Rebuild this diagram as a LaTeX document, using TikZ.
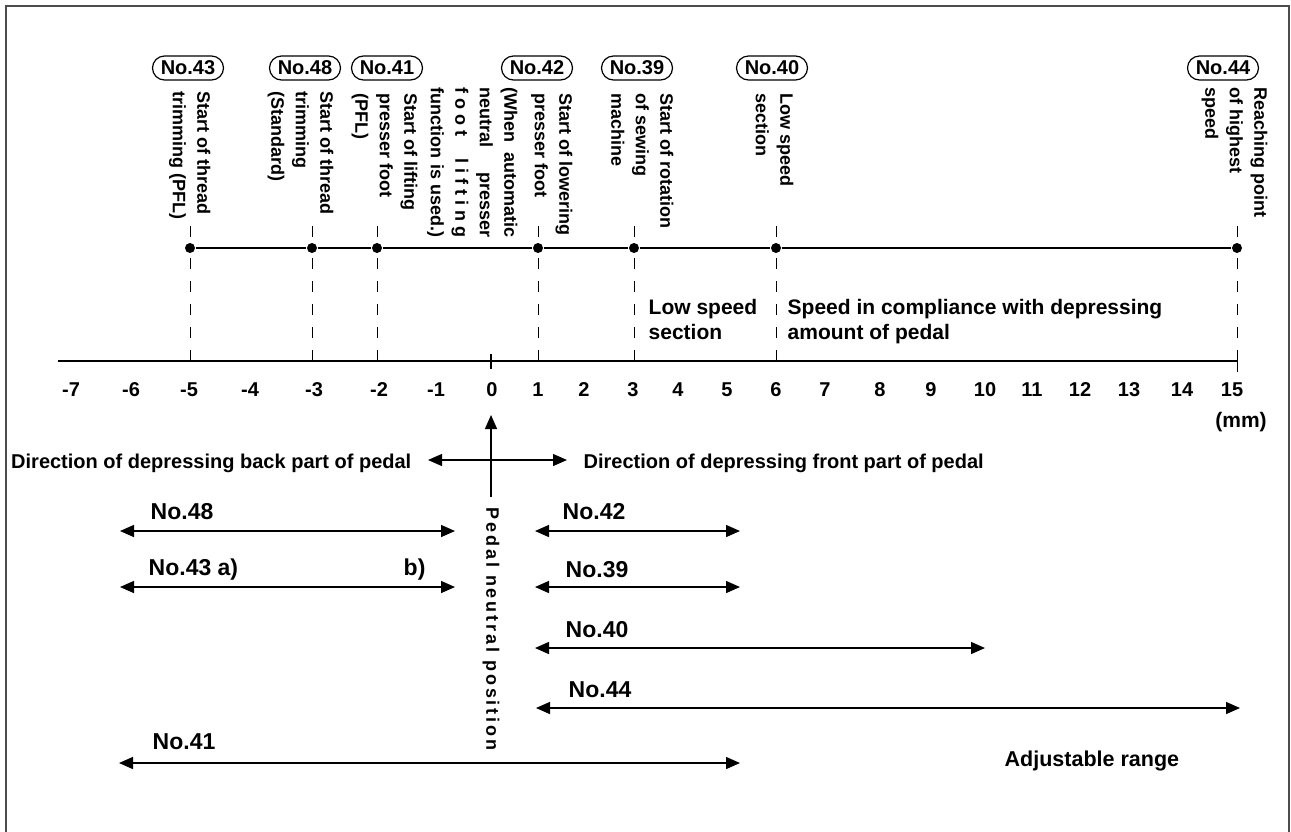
\documentclass[tikz,border=0pt]{standalone}
\usepackage{fontspec}
\setmainfont{Liberation Sans}
\newfontfamily\spacedfont{Liberation Sans}[LetterSpace=16]
\usetikzlibrary{arrows.meta}
\begin{document}
\begin{tikzpicture}[x=1pt,y=-1pt,line width=1.4pt,
  oval/.style={draw,rounded corners=12pt,minimum width=71pt,minimum height=24pt,inner sep=0pt,line width=1.2pt,font=\fontsize{20}{24}\selectfont\bfseries},
  dot/.style={circle,fill,inner sep=0pt,minimum size=10pt},
  vlab/.style={rotate=-90,anchor=north west,align=left,inner sep=0pt,font=\fontsize{18}{24.5}\selectfont\bfseries},
  num/.style={inner sep=0pt,font=\fontsize{20}{24}\selectfont\bfseries},
  hlab/.style={inner sep=0pt,align=left,font=\fontsize{21}{25}\selectfont\bfseries},
  rlab/.style={inner sep=0pt,anchor=west,font=\fontsize{23}{27}\selectfont\bfseries},
  dline/.style={line width=1pt,dash pattern=on 11pt off 12pt},
  rng/.style={line width=1.4pt,{Triangle[length=14pt,width=12pt]}-{Triangle[length=14pt,width=12pt]}}]
\useasboundingbox (0,0) rectangle (1291,831);
% frame
\draw[black!70,line width=1.5pt] (6,845) -- (6,6) -- (1289,6) -- (1289,845);
% ovals
\node[oval] (o43) at (188,68) {No.43};
\node[oval] (o48) at (305,68) {No.48};
\node[oval] (o41) at (387,68) {No.41};
\node[oval] (o42) at (537,68) {No.42};
\node[oval] (o39) at (637,68) {No.39};
\node[oval] (o40) at (772,68) {No.40};
\node[oval] (o44) at (1223,68) {No.44};
% vertical labels
\node[vlab] (t43) at (211,91) {Start of thread\\trimming (PFL)};
\node[vlab] (t48) at (334,91) {Start of thread\\trimming\\(Standard)};
\node[vlab] (t41) at (418,93) {Start of lifting\\presser foot\\(PFL)};
\node[vlab] (t42) at (573,93) {Start of lowering\\presser foot};
\node[vlab] (t42b) at (518,87) {\makebox[150pt][s]{(When automatic}\\\makebox[150pt][s]{neutral presser}\\\makebox[150pt][s]{\addfontfeature{LetterSpace=28}foot \ lifting}\\\makebox[150pt][s]{function is used.)}};
\node[vlab] (t39) at (674,93) {Start of rotation\\of sewing\\machine};
\node[vlab] (t40) at (794,93) {Low speed\\section};
\node[vlab] (t44) at (1268,87) {Reaching point\\of highest\\speed};
% dots
\node[dot] (d43) at (190,248) {};
\node[dot] (d48) at (312,248) {};
\node[dot] (d41) at (377,248) {};
\node[dot] (d42) at (538,248) {};
\node[dot] (d39) at (634,248) {};
\node[dot] (d40) at (776,248) {};
\node[dot] (d44) at (1237,248) {};
\draw (d43) -- (d48) -- (d41) -- (d42) -- (d39) -- (d40) -- (d44);
% dashed verticals
\foreach \k/\x in {43/190,48/312,41/377,42/538,39/634,40/776,44/1237}{
  \coordinate (f\k) at (\x,361);
  \coordinate (u\k) at (\x,226);
  \coordinate (v\k) at (\x,237);
  \draw[dline] (f\k) -- (d\k);
  \draw[line width=1pt] (u\k) -- (v\k);
}
% axis
\coordinate (axL) at (58,361);
\coordinate (axR) at (1237,361);
\draw (axL) -- (axR);
\coordinate (z0) at (491,354);
\coordinate (z1) at (491,369);
\draw (z0) -- (z1);
\coordinate (e44) at (1237,372);
\draw[line width=1pt] (f44) -- (e44);
% numbers
\foreach \v/\x in {-7/71,-6/131,-5/189,-4/250,-3/314,-2/379,-1/436,0/492,1/538,2/584,3/633,4/678,5/727,6/776,7/825,8/880,9/931,10/985,11/1032,12/1080,13/1129,14/1182,15/1232}
  \node[num] (n\v) at (\x,390) {\v};
\node[num,font=\fontsize{21}{24}\selectfont\bfseries] (mm) at (1241,422) {(mm)};
% section texts
\node[hlab,anchor=north west] (ls) at (648,299) {Low speed\\section};
\node[hlab,anchor=north west] (sc) at (787,299) {Speed in compliance with depressing\\amount of pedal};
% pedal direction
\coordinate (pv0) at (491,497);
\coordinate (pv1) at (491,415);
\draw[line width=1.2pt,-{Triangle[length=14pt,width=12pt]}] (pv0) -- (pv1);
\coordinate (ph0) at (428,460);
\coordinate (ph1) at (567,460);
\draw[rng,line width=1.2pt] (ph0) -- (ph1);
\node[hlab,anchor=east,font=\fontsize{20}{24}\selectfont\bfseries] (dback) at (412,463) {Direction of depressing back part of pedal};
\node[hlab,anchor=west,font=\fontsize{20}{24}\selectfont\bfseries] (dfront) at (583,463) {Direction of depressing front part of pedal};
\node[rotate=-90,anchor=north west,inner sep=0pt,font=\spacedfont\fontsize{18}{24}\selectfont\bfseries] (pnp) at (500,507) {Pedal neutral position};
% ranges
\coordinate (a48l) at (120,531); \coordinate (a48r) at (455,531);
\coordinate (a43l) at (120,587); \coordinate (a43r) at (455,587);
\coordinate (a42l) at (535,531); \coordinate (a42r) at (740,531);
\coordinate (a39l) at (535,587); \coordinate (a39r) at (740,587);
\coordinate (a40l) at (535,648); \coordinate (a40r) at (985,648);
\coordinate (a44l) at (536,708); \coordinate (a44r) at (1240,708);
\coordinate (a41l) at (119,763); \coordinate (a41r) at (740,763);
\draw[rng] (a48l) -- (a48r);
\draw[rng] (a43l) -- (a43r);
\draw[rng] (a42l) -- (a42r);
\draw[rng] (a39l) -- (a39r);
\draw[rng] (a40l) -- (a40r);
\draw[rng] (a44l) -- (a44r);
\draw[rng] (a41l) -- (a41r);
\node[rlab] (r48) at (150,512) {No.48};
\node[rlab] (r43) at (148,570) {No.43 a)};
\node[rlab] (r43b) at (403,570) {b)};
\node[rlab] (r42) at (562,512) {No.42};
\node[rlab] (r39) at (565,570) {No.39};
\node[rlab] (r40) at (565,630) {No.40};
\node[rlab] (r44) at (568,690) {No.44};
\node[rlab] (r41) at (152,742) {No.41};
\node[hlab,anchor=west,font=\fontsize{21.5}{25}\selectfont\bfseries] (adj) at (1004,761) {Adjustable range};
\end{tikzpicture}
\end{document}
